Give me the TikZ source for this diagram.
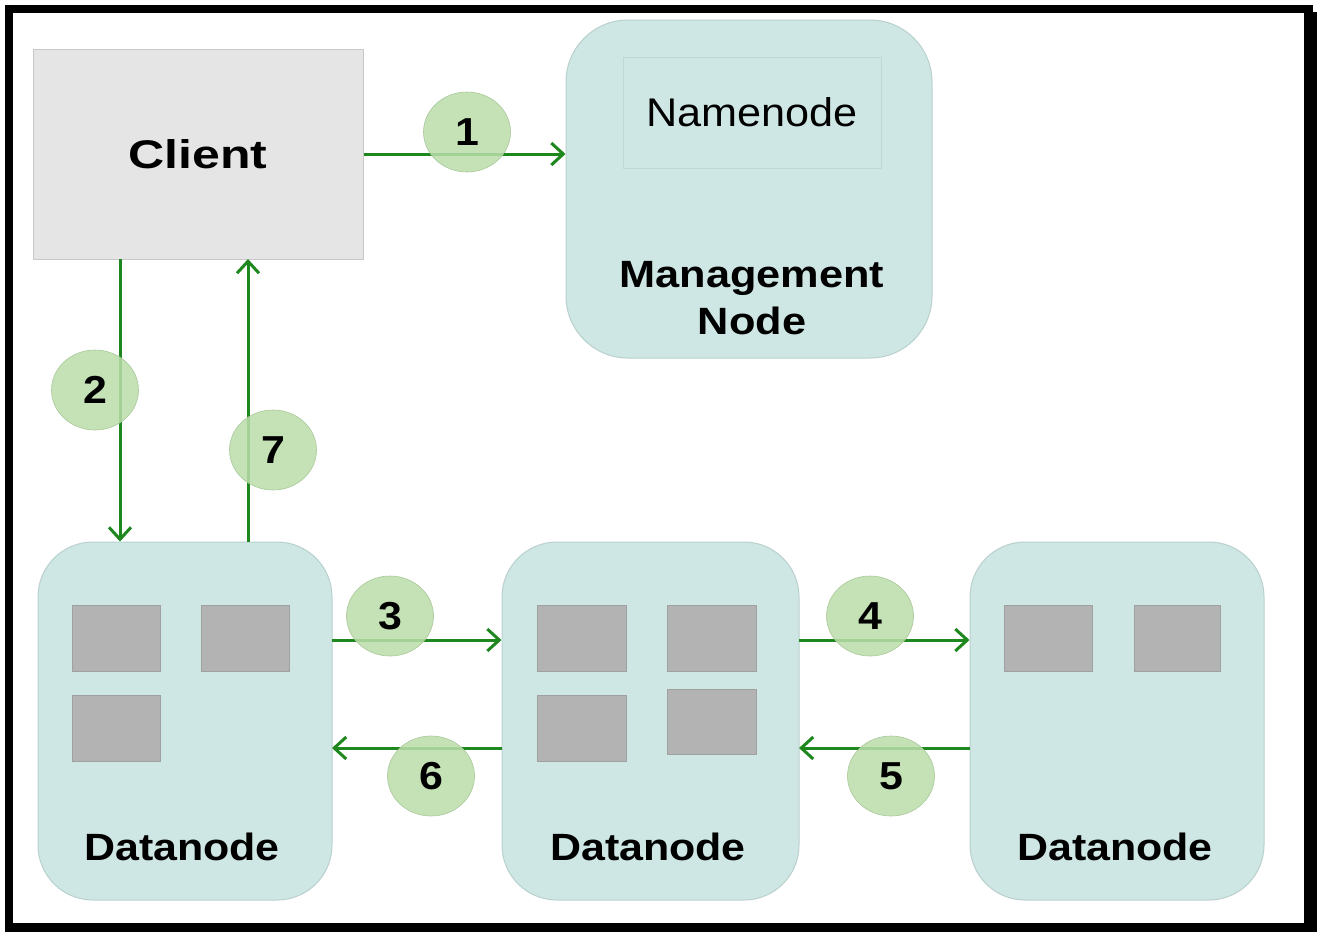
\documentclass[tikz,border=0pt]{standalone}
\usepackage{fontspec}
\setmainfont{Liberation Sans}
\usetikzlibrary{arrows.meta,shapes.geometric,calc}
\definecolor{clientfill}{RGB}{229,229,229}
\definecolor{clientdraw}{RGB}{200,200,200}
\definecolor{tealfill}{RGB}{207,231,228}
\definecolor{tealdraw}{RGB}{185,208,205}
\definecolor{blkfill}{RGB}{179,179,179}
\definecolor{blkdraw}{RGB}{160,160,160}
\definecolor{arrgreen}{RGB}{30,135,30}
\definecolor{numfill}{RGB}{188,222,170}
\definecolor{numdraw}{RGB}{170,200,155}
\newcommand{\hsc}[2]{\scalebox{#1}[1]{#2}}
\begin{document}
\begin{tikzpicture}[x=1pt,y=-1pt,
  clientbox/.style={rectangle,fill=clientfill,draw=clientdraw,line width=1pt,minimum width=330pt,minimum height=210pt,inner sep=0pt,
    font=\fontsize{40}{44}\selectfont\bfseries},
  tealbox/.style={rectangle,rounded corners=55pt,fill=tealfill,draw=tealdraw,line width=1pt,inner sep=0pt},
  namebox/.style={rectangle,fill=tealfill,draw=tealdraw!70!tealfill,line width=1pt,minimum width=258pt,minimum height=111pt,inner sep=0pt,
    font=\fontsize{40}{44}\selectfont},
  blk/.style={rectangle,fill=blkfill,draw=blkdraw,line width=0.8pt,minimum width=88pt,minimum height=66pt,inner sep=0pt},
  lbl/.style={font=\fontsize{38}{47}\selectfont\bfseries,align=center,inner sep=0pt},
  num/.style={ellipse,fill=numfill,fill opacity=0.85,text opacity=1,draw=numdraw,line width=0.6pt,minimum width=87pt,minimum height=80pt,inner sep=0pt,
    font=\fontsize{39}{44}\selectfont\bfseries},
  arr/.style={draw=arrgreen,line width=3pt,-{Straight Barb[length=12pt,width=22pt,line width=3pt]}}
]
\useasboundingbox (0,0) rectangle (1319,935);
% frame
\fill[white] (0,0) rectangle (1319,935);
\fill[black] (5,5) rectangle (1313,932);
\fill[black] (1313,12) rectangle (1317,932);
\fill[white] (13,13) rectangle (1304,923);

% boxes
\node[clientbox] (client) at (198,154) {\hsc{1.25}{Client}};
\node[tealbox,minimum width=366pt,minimum height=338pt,rounded corners=62pt] (mgmt) at (749,189) {};
\node[namebox] (name) at (752,112.5) {\hsc{1.08}{Namenode}};
\node[lbl] (mgmtl) at (752,298) {\hsc{1.14}{Management}\\\hsc{1.14}{Node}};

\node[tealbox,minimum width=294pt,minimum height=358pt] (dn1) at (185,721) {};
\node[tealbox,minimum width=297pt,minimum height=358pt] (dn2) at (650.5,721) {};
\node[tealbox,minimum width=294pt,minimum height=358pt] (dn3) at (1117,721) {};

% blocks
\node[blk] (b11) at (116,638) {};
\node[blk] (b12) at (245,638) {};
\node[blk] (b13) at (116,728) {};
\node[blk,minimum width=89pt] (b21) at (581.5,638) {};
\node[blk,minimum width=89pt] (b22) at (711.5,638) {};
\node[blk,minimum width=89pt] (b23) at (581.5,728) {};
\node[blk,minimum width=89pt,minimum height=65pt] (b24) at (711.5,721.5) {};
\node[blk] (b31) at (1048,638) {};
\node[blk,minimum width=86pt] (b32) at (1177,638) {};

\node[lbl] (dn1l) at (182,847) {\hsc{1.13}{Datanode}};
\node[lbl] (dn2l) at (648,847) {\hsc{1.13}{Datanode}};
\node[lbl] (dn3l) at (1115,847) {\hsc{1.13}{Datanode}};

% connector anchor points
\coordinate (c2) at (120,259);
\coordinate (c7) at (248,259);
\coordinate (r3) at (332,640);
\coordinate (r6) at (332,748);
\coordinate (r4) at (799,640);
\coordinate (r5) at (799,748);

% arrows
\draw[arr] (client.east) -- (client.east -| mgmt.west);
\draw[arr] (c2) -- (c2 |- dn1.north);
\draw[arr] (c7 |- dn1.north) -- (c7);
\draw[arr] (r3) -- (r3 -| dn2.west);
\draw[arr] (r6 -| dn2.west) -- (r6);
\draw[arr] (r4) -- (r4 -| dn3.west);
\draw[arr] (r5 -| dn3.west) -- (r5);

% number circles
\node[num] (n1) at (467,132) {\hsc{1.1}{1}};
\node[num] (n2) at (95,390) {\hsc{1.1}{2}};
\node[num] (n7) at (273,450) {\hsc{1.1}{7}};
\node[num] (n3) at (390,616) {\hsc{1.1}{3}};
\node[num] (n6) at (431,776) {\hsc{1.1}{6}};
\node[num] (n4) at (870,616) {\hsc{1.1}{4}};
\node[num] (n5) at (891,776) {\hsc{1.1}{5}};
\end{tikzpicture}
\end{document}
